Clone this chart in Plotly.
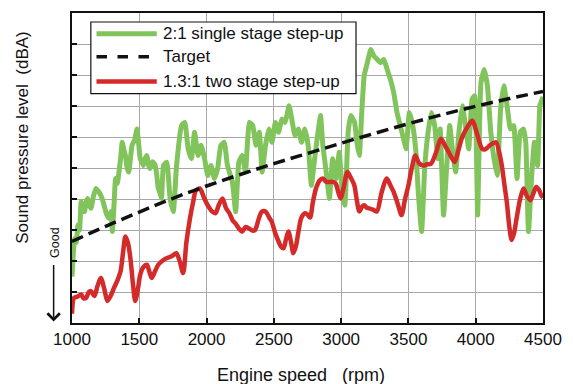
import plotly.graph_objects as go

# Engine speed sweep (rpm) and sound pressure level (relative dBA divisions)
single_stage_rpm = [
    1000, 1012, 1020, 1032, 1044, 1056, 1068, 1080, 1093, 1105, 1117, 1129, 1141, 1160,
    1178, 1196, 1214, 1232, 1251, 1263, 1275, 1290, 1300, 1312, 1324, 1337, 1349, 1361,
    1373, 1385, 1397, 1410, 1422, 1434, 1446, 1465, 1483, 1495, 1507, 1519, 1531, 1543,
    1556, 1568, 1580, 1598, 1617, 1629, 1641, 1653, 1665, 1680, 1704, 1729, 1753, 1777,
    1814, 1838, 1863, 1887, 1911, 1936, 1960, 1985, 2009, 2033, 2058, 2082, 2106, 2131,
    2155, 2192, 2216, 2240, 2265, 2289, 2318, 2343, 2367, 2392, 2413, 2438, 2462, 2486,
    2511, 2535, 2560, 2584, 2613, 2633, 2657, 2681, 2706, 2730, 2755, 2779, 2803, 2828,
    2847, 2864, 2889, 2913, 2937, 2962, 2986, 3010, 3027, 3052, 3071, 3100, 3117, 3135,
    3152, 3171, 3195, 3220, 3244, 3269, 3293, 3317, 3342, 3366, 3390, 3415, 3439, 3464,
    3483, 3507, 3532, 3556, 3573, 3598, 3622, 3646, 3671, 3695, 3719, 3736, 3761, 3785,
    3807, 3826, 3851, 3875, 3900, 3924, 3948, 3973, 3992, 4014, 4039, 4063, 4087, 4112,
    4136, 4160, 4185, 4209, 4233, 4258, 4282, 4307, 4331, 4355, 4372, 4392, 4416, 4436,
    4460, 4477, 4494, 4500,
]
single_stage_spl = [
    1.5, 2.4, 2.73, 2.6, 3.16, 3.0, 3.91, 3.7, 3.59, 3.9, 4.02, 3.8, 3.7, 4.1,
    4.34, 4.25, 4.12, 3.9, 3.59, 3.45, 3.38, 3.6, 2.95, 3.8, 4.66, 4.5, 4.87, 5.3,
    5.83, 5.6, 5.4, 5.0, 4.87, 5.3, 5.73, 5.9, 6.26, 5.8, 5.3, 5.2, 5.08, 5.3,
    5.4, 5.1, 4.98, 5.2, 5.1, 4.8, 4.34, 4.2, 4.02, 5.08, 5.19, 4.02, 3.59, 5.08,
    6.37, 6.47, 5.62, 5.3, 6.15, 5.4, 5.73, 5.3, 4.76, 5.08, 4.66, 4.98, 5.73, 5.83,
    5.08, 4.55, 3.59, 5.19, 5.4, 4.87, 6.47, 6.37, 5.73, 6.15, 4.87, 5.73, 6.26, 5.83,
    6.47, 6.15, 6.58, 6.47, 7.01, 6.58, 6.05, 6.26, 5.83, 6.26, 5.73, 4.44, 5.3, 6.15,
    6.69, 5.73, 4.87, 4.02, 5.3, 4.66, 5.51, 4.12, 3.8, 6.15, 6.69, 6.47, 5.83, 5.4,
    6.69, 7.97, 8.4, 8.82, 8.61, 8.5, 8.4, 8.5, 8.18, 7.86, 7.44, 6.79, 6.37, 5.94,
    5.62, 6.79, 6.37, 5.51, 4.23, 2.95, 5.08, 6.15, 6.79, 6.37, 5.3, 6.26, 3.48, 5.08,
    6.37, 5.62, 4.87, 6.15, 7.01, 6.37, 5.62, 7.22, 7.33, 3.48, 7.76, 8.18, 7.65, 6.15,
    5.3, 4.76, 6.9, 7.65, 7.01, 6.26, 6.37, 4.66, 6.15, 6.26, 5.83, 2.95, 4.76, 5.83,
    5.08, 7.01, 7.22, 7.3,
]

two_stage_rpm = [
    1000, 1015, 1040, 1068, 1085, 1105, 1125, 1141, 1166, 1190, 1214, 1240, 1263, 1290,
    1312, 1340, 1361, 1380, 1397, 1415, 1434, 1452, 1470, 1490, 1507, 1530, 1556, 1575,
    1592, 1615, 1641, 1670, 1702, 1740, 1775, 1800, 1826, 1850, 1877, 1900, 1921, 1950,
    1980, 2008, 2040, 2067, 2090, 2118, 2145, 2170, 2195, 2213, 2240, 2265, 2290, 2316,
    2340, 2360, 2389, 2411, 2440, 2465, 2484, 2510, 2535, 2555, 2572, 2590, 2608, 2628,
    2645, 2665, 2681, 2705, 2733, 2750, 2769, 2790, 2813, 2840, 2864, 2890, 2915, 2940,
    2959, 2980, 2996, 3020, 3047, 3070, 3098, 3115, 3135, 3155, 3171, 3190, 3208, 3240,
    3266, 3300, 3339, 3365, 3390, 3420, 3449, 3475, 3500, 3525, 3551, 3580, 3610, 3640,
    3668, 3705, 3741, 3775, 3807, 3843, 3870, 3895, 3935, 3975, 4010, 4048, 4070, 4085,
    4110, 4150, 4175, 4194, 4212, 4231, 4250, 4267, 4285, 4304, 4330, 4355, 4380, 4406,
    4430, 4450, 4470, 4487, 4500,
]
two_stage_spl = [
    0.3, 0.81, 0.85, 0.92, 0.8, 0.81, 1.0, 1.03, 0.87, 1.2, 1.45, 1.1, 0.71, 0.9,
    1.13, 1.4, 1.67, 2.3, 2.79, 2.6, 2.09, 1.3, 0.71, 1.1, 1.56, 1.8, 1.88, 1.65,
    1.45, 1.65, 1.88, 2.0, 2.09, 2.15, 2.25, 2.0, 1.61, 2.6, 3.38, 3.9, 4.28, 4.34,
    4.05, 3.8, 3.6, 3.54, 3.8, 4.02, 3.7, 3.54, 3.3, 3.22, 3.05, 2.95, 3.1, 3.05,
    2.98, 3.0, 3.38, 3.59, 3.59, 3.4, 3.27, 2.9, 2.63, 2.45, 2.41, 2.7, 2.95, 2.6,
    2.25, 2.5, 2.9, 3.4, 3.54, 3.5, 3.4, 3.9, 4.34, 4.6, 4.66, 4.55, 4.55, 4.55,
    4.5, 4.2, 4.02, 4.4, 4.87, 4.7, 4.44, 4.0, 3.6, 3.75, 3.8, 3.72, 3.7, 3.65,
    3.6, 4.2, 4.66, 4.45, 4.23, 3.85, 3.48, 4.0, 4.44, 5.0, 5.4, 5.15, 5.08, 5.12,
    5.14, 5.5, 5.94, 5.7, 5.45, 5.19, 5.55, 5.94, 6.3, 6.53, 6.1, 5.62, 5.6, 5.65,
    5.75, 5.83, 5.5, 5.08, 4.5, 3.9, 3.1, 2.68, 2.9, 3.38, 4.0, 4.34, 4.1, 3.96,
    4.2, 4.39, 4.3, 4.12, 4.05,
]

target_rpm = [1000, 1250, 1500, 1750, 2000, 2250, 2500, 2750, 3000, 3250, 3500, 3750, 4000, 4250, 4500]
target_spl = [2.63, 3.12, 3.58, 4.02, 4.42, 4.79, 5.14, 5.47, 5.8, 6.12, 6.43, 6.72, 6.99, 7.24, 7.47]

x_ticks = [1000, 1500, 2000, 2500, 3000, 3500, 4000, 4500]

legend_labels = ["2:1 single stage step-up", "Target", "1.3:1 two stage step-up"]

GREEN = "#82c45c"
RED = "#d42a2a"
BLACK = "#111111"
FONT = "Liberation Sans, Arial, sans-serif"

fig = go.Figure()
fig.add_trace(go.Scatter(
    x=single_stage_rpm, y=single_stage_spl, mode="lines",
    line=dict(color=GREEN, width=5, shape="spline", smoothing=0.4),
    name=legend_labels[0], showlegend=False,
))
fig.add_trace(go.Scatter(
    x=two_stage_rpm, y=two_stage_spl, mode="lines",
    line=dict(color=RED, width=4.5, shape="spline", smoothing=0.8),
    name=legend_labels[2], showlegend=False,
))
fig.add_trace(go.Scatter(
    x=target_rpm, y=target_spl, mode="lines",
    line=dict(color=BLACK, width=3.5, dash="12px,6px", shape="spline"),
    name=legend_labels[1], showlegend=False,
))

# Boxed legend in the upper-left of the plot area
box_x0, box_x1 = 0.040, 0.603
box_y0, box_y1 = 0.740, 0.971
sample_x0, sample_x1 = 0.052, 0.180
row_y = [0.933, 0.859, 0.779]
legend_styles = [
    dict(color=GREEN, width=5),
    dict(color=BLACK, width=3.5, dash="dash"),
    dict(color=RED, width=4.5),
]
fig.add_shape(type="rect", xref="paper", yref="paper",
              x0=box_x0, x1=box_x1, y0=box_y0, y1=box_y1,
              line=dict(color=BLACK, width=1.2), fillcolor="white", layer="above")
for label, style, yy in zip(legend_labels, legend_styles, row_y):
    fig.add_shape(type="line", xref="paper", yref="paper",
                  x0=sample_x0, x1=sample_x1, y0=yy, y1=yy, line=style, layer="above")
    fig.add_annotation(x=0.188, y=yy, xref="paper", yref="paper", text=label,
                       showarrow=False, xanchor="left", yanchor="middle",
                       font=dict(family=FONT, size=17, color=BLACK))

# Axis titles and the "Good" direction marker
fig.add_annotation(x=-0.105, y=0.599, xref="paper", yref="paper",
                   text="Sound pressure level  (dBA)", textangle=-90, showarrow=False,
                   xanchor="center", yanchor="middle",
                   font=dict(family=FONT, size=17, color=BLACK))
fig.add_annotation(x=0.487, y=-0.167, xref="paper", yref="paper",
                   text="Engine speed   (rpm)", showarrow=False,
                   xanchor="center", yanchor="middle",
                   font=dict(family=FONT, size=18, color=BLACK))
fig.add_annotation(x=-0.035, y=0.26, xref="paper", yref="paper",
                   text="Good", textangle=-90, showarrow=False,
                   xanchor="center", yanchor="middle",
                   font=dict(family=FONT, size=12.5, color=BLACK))
fig.add_annotation(x=-0.039, y=0.005, xref="paper", yref="paper", text="",
                   showarrow=True, ax=0, ay=-58, arrowhead=4, arrowsize=1.6,
                   arrowwidth=1.5, arrowcolor=BLACK, standoff=0)

fig.update_xaxes(
    range=[1000, 4500], tickvals=x_ticks, ticktext=[str(v) for v in x_ticks],
    showgrid=True, gridcolor="#a8a8a8", gridwidth=1,
    showline=True, linecolor=BLACK, linewidth=2, mirror=True,
    ticks="inside", ticklen=5, tickcolor=BLACK, tickwidth=1.5,
    tickfont=dict(family=FONT, size=17, color=BLACK), zeroline=False,
)
fig.update_yaxes(
    range=[0, 10], dtick=1, showticklabels=False,
    showgrid=True, gridcolor="#a8a8a8", gridwidth=1,
    showline=True, linecolor=BLACK, linewidth=2, mirror=True,
    ticks="inside", ticklen=5, tickcolor=BLACK, tickwidth=1.5, zeroline=False,
)
fig.update_layout(
    width=573, height=384,
    margin=dict(l=72, r=23, t=11, b=61),
    paper_bgcolor="white", plot_bgcolor="white",
    showlegend=False,
)

fig.write_html("out.html")
